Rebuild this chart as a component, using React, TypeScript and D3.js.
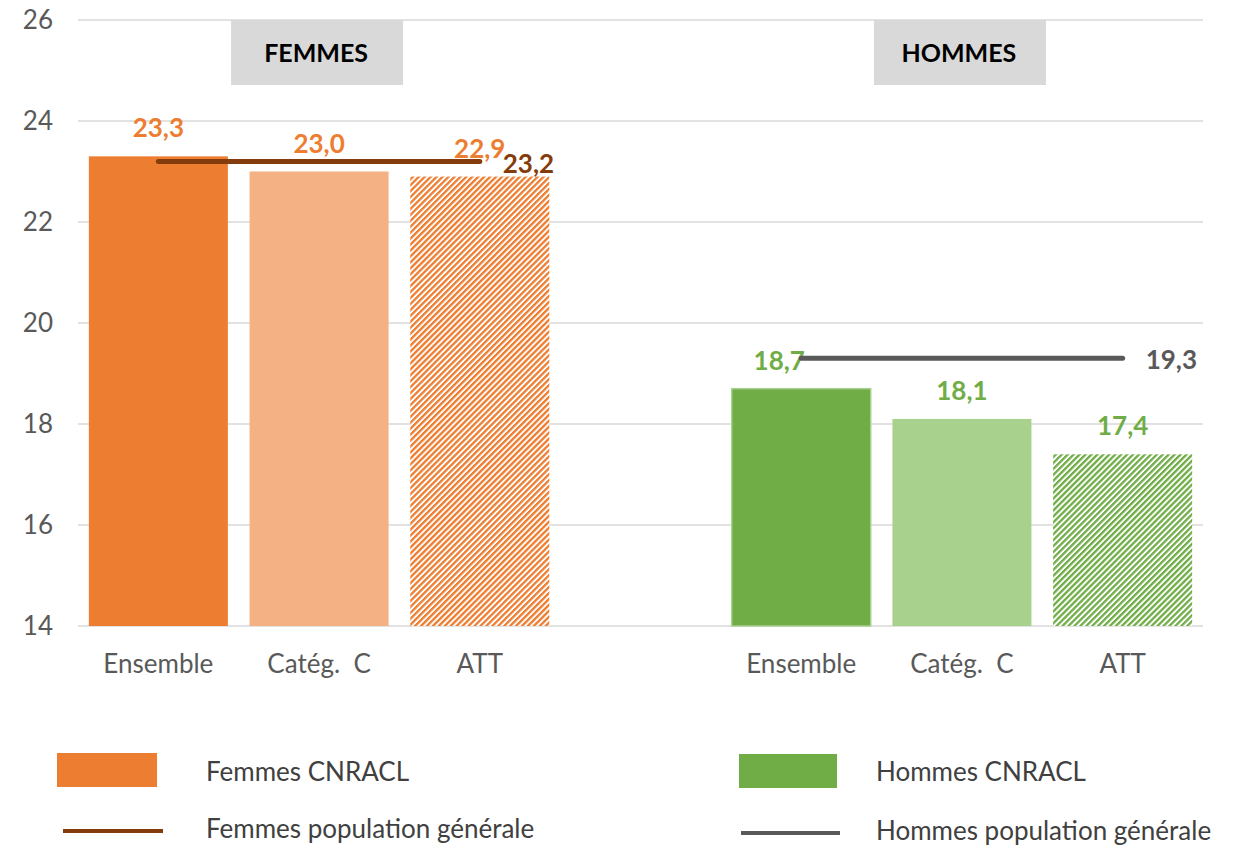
import React from 'react';
import * as d3 from 'd3';

const categories = ['Ensemble', 'Catég.  C', 'ATT'];
const femmesValues = [23.3, 23.0, 22.9];
const hommesValues = [18.7, 18.1, 17.4];
const femmesPopulation = 23.2;
const hommesPopulation = 19.3;
const yTicks = [14, 16, 18, 20, 22, 24, 26];
const groupTitles = ['FEMMES', 'HOMMES'];
const legendLabels = ['Femmes CNRACL', 'Femmes population générale', 'Hommes CNRACL', 'Hommes population générale'];

const W = 1244;
const H = 847;
const FONT = 'Lato, "Open Sans", sans-serif';

const fmt = (v: number) => d3.format('.1f')(v).replace('.', ',');

export default function App() {
  const slots = ['F0', 'F1', 'F2', 'gap', 'H0', 'H1', 'H2'];
  const x = d3.scaleBand<string>().domain(slots).range([78, 1203]).paddingInner(0.135).paddingOuter(0.0675);
  const y = d3.scaleLinear().domain([14, 26]).range([626, 20]);
  const bw = x.bandwidth();
  const cx = (k: string) => (x(k) as number) + bw / 2;

  const groups = [
    {
      key: 'F', title: groupTitles[0], values: femmesValues, pop: femmesPopulation,
      fills: ['#ed7d31', '#f4b183', 'url(#hatchOrange)'], stroke: 'none',
      labelColor: '#ed7d31', lineColor: '#843c0c', popColor: '#843c0c',
    },
    {
      key: 'H', title: groupTitles[1], values: hommesValues, pop: hommesPopulation,
      fills: ['#70ad47', '#a9d18e', 'url(#hatchGreen)'], stroke: '#a9d18e',
      labelColor: '#70ad47', lineColor: '#595959', popColor: '#595959',
    },
  ];

  return (
    <svg width={W} height={H} style={{ position: 'absolute', left: 0, top: 0, background: '#fff' }} fontFamily={FONT}>
      <defs>
        <pattern id="hatchOrange" width="4.2" height="4.2" patternUnits="userSpaceOnUse" patternTransform="rotate(45)">
          <rect width="4.2" height="4.2" fill="#fff" />
          <rect width="2.3" height="4.2" fill="#ed7d31" />
        </pattern>
        <pattern id="hatchGreen" width="4.2" height="4.2" patternUnits="userSpaceOnUse" patternTransform="rotate(45)">
          <rect width="4.2" height="4.2" fill="#fff" />
          <rect width="2.3" height="4.2" fill="#70ad47" />
        </pattern>
      </defs>

      {/* grid */}
      {yTicks.map(t => (
        <g key={t}>
          <line x1={78} x2={1203} y1={y(t)} y2={y(t)} stroke="#d9d9d9" strokeWidth={1.5} />
          <text x={53} y={y(t)} dy="0.35em" textAnchor="end" fontSize={26} fill="#595959">{t}</text>
        </g>
      ))}

      {groups.map(g => {
        const mid = cx(g.key + '1');
        return (
          <g key={g.key}>
            {/* header box */}
            <rect x={mid - 88} y={y(26)} width={172} height={65} fill="#d9d9d9" />
            <text x={mid - 3} y={y(26) + 33} dy="0.35em" textAnchor="middle" fontSize={25} fontWeight="bold" fill="#000">{g.title}</text>

            {g.values.map((v, i) => {
              const k = g.key + i;
              return (
                <g key={k}>
                  <rect x={x(k)} y={y(v)} width={bw} height={y(14) - y(v)} fill={g.fills[i]}
                    stroke={i === 0 ? g.stroke : 'none'} strokeWidth={1.5} />
                  <text x={cx(k) + (g.key === 'H' && i === 0 ? -22 : 0)} y={y(v) - 19} textAnchor="middle"
                    fontSize={26} fontWeight="bold" fill={g.labelColor}>{fmt(v)}</text>
                  <text x={cx(k)} y={664} dy="0.35em" textAnchor="middle" fontSize={26} fill="#595959"
                    style={{ whiteSpace: 'pre' }}>{categories[i]}</text>
                </g>
              );
            })}

            {/* population line */}
            <line x1={cx(g.key + '0')} x2={cx(g.key + '2')} y1={y(g.pop)} y2={y(g.pop)}
              stroke={g.lineColor} strokeWidth={5} strokeLinecap="round" />
            <text x={cx(g.key + '2') + 23} y={y(g.pop) + 2} dy="0.35em" fontSize={26} fontWeight="bold" fill={g.popColor}>{fmt(g.pop)}</text>
          </g>
        );
      })}

      {/* legend */}
      <g>
        <rect x={57} y={753} width={100} height={34} fill="#ed7d31" />
        <text x={206} y={772} dy="0.35em" fontSize={26} fill="#404040">{legendLabels[0]}</text>
        <line x1={63} x2={163} y1={831} y2={831} stroke="#843c0c" strokeWidth={4} />
        <text x={206} y={829} dy="0.35em" fontSize={26} fill="#404040">{legendLabels[1]}</text>

        <rect x={739} y={754} width={98} height={34} fill="#70ad47" />
        <text x={876} y={772} dy="0.35em" fontSize={26} fill="#404040">{legendLabels[2]}</text>
        <line x1={741} x2={840} y1={833} y2={833} stroke="#595959" strokeWidth={4} />
        <text x={876} y={831} dy="0.35em" fontSize={26} fill="#404040">{legendLabels[3]}</text>
      </g>
    </svg>
  );
}
